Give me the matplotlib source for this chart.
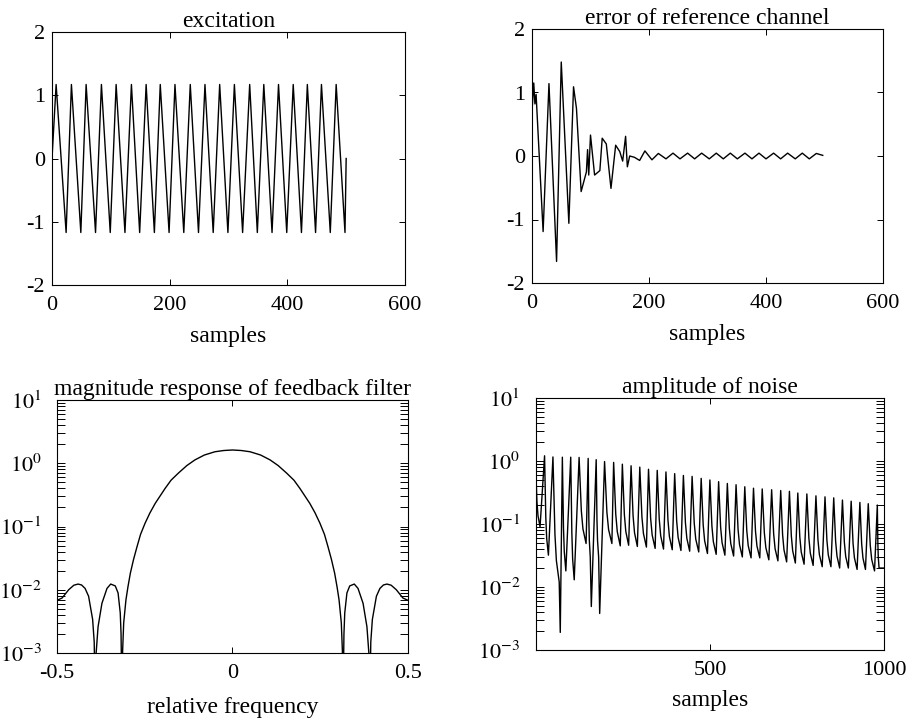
import matplotlib
matplotlib.use('Agg')
import matplotlib.pyplot as plt
import numpy as np

plt.rcParams['font.family'] = ['Liberation Serif', 'DejaVu Serif']
plt.rcParams['mathtext.fontset'] = 'stix'
plt.rcParams['axes.unicode_minus'] = False

# ---------------- data ----------------
# excitation: turning points
exc_start = (0, 0.0)
exc_peak_x = [7, 33, 58, 84, 109, 135, 160, 184, 209, 235, 260, 285, 310, 336, 360, 385, 410, 434, 458, 483]
exc_peak_y = [1.17] * 20
exc_trough_x = [24, 49, 74, 99, 124, 149, 174, 199, 224, 249, 274, 299, 324, 349, 374, 399, 424, 448, 473, 498]
exc_trough_y = [-1.17] * 20
exc_end = (500, 0.0)

# error of reference channel: vertices
err_x = [0, 3, 5, 7, 19, 29, 42, 50, 63, 71, 76, 84, 93, 95, 97, 100, 107, 116, 120, 127,
         135, 143, 150, 155, 160, 163, 167, 175, 184, 193, 205, 216, 229, 241, 253, 266,
         278, 290, 303, 315, 327, 339, 351, 364, 376, 388, 400, 413, 425, 437, 450, 462,
         474, 486, 497]
err_y = [0.7, 1.15, 0.82, 0.97, -1.19, 1.14, -1.66, 1.48, -1.06, 1.09, 0.75, -0.56, -0.25, 0.10,
         -0.30, 0.33, -0.30, -0.23, 0.28, 0.19, -0.51, 0.17, 0.07, -0.08, 0.31, -0.17, 0.0,
         -0.02, -0.07, 0.08, -0.06, 0.04, -0.045, 0.045, -0.045, 0.045, -0.045, 0.045, -0.045,
         0.045, -0.045, 0.045, -0.045, 0.045, -0.045, 0.045, -0.045, 0.045, -0.045, 0.045,
         -0.045, 0.045, -0.045, 0.04, 0.01]

# magnitude response (positive-frequency half, curve is symmetric)
mag_f = [0.0, 0.025, 0.05, 0.08, 0.107, 0.13, 0.154, 0.175, 0.192, 0.22, 0.235, 0.249,
         0.262, 0.272, 0.282, 0.291, 0.298, 0.3036, 0.310, 0.313, 0.3145,
         0.3175, 0.3198, 0.326, 0.334, 0.347, 0.3576, 0.372, 0.383, 0.3885, 0.3908,
         0.394, 0.3985, 0.41, 0.42, 0.43, 0.44, 0.452, 0.4667, 0.4855, 0.5]
mag_v = [1.62, 1.59, 1.52, 1.35, 1.13, 0.92, 0.70, 0.54, 0.40, 0.233, 0.165, 0.113,
         0.075, 0.048, 0.030, 0.0183, 0.011, 0.0069, 0.0030, 0.0011, 1e-4,
         0.002, 0.0043, 0.0089, 0.0115, 0.0123, 0.0105, 0.0061, 0.0026, 0.001, 1e-4,
         0.0015, 0.0034, 0.0079, 0.0105, 0.0119, 0.0123, 0.0118, 0.0100, 0.0074, 0.0068]

# amplitude of noise: start, peaks, troughs (before each peak), deep dips
noise_start = (0, 1.0)
noise_peak_x = [26, 50, 77, 101, 125, 151, 174, 198, 224, 249, 274, 299, 324, 349, 374, 399,
                424, 449, 475, 500, 525, 550, 575, 600, 625, 650, 677, 703, 728, 752, 778,
                804, 830, 855, 880, 905, 930, 954, 980]
noise_peak_y = [1.21, 1.16, 1.15, 1.15, 1.14, 1.10, 1.05, 0.98, 0.95, 0.89, 0.84, 0.80, 0.74,
                0.71, 0.67, 0.63, 0.59, 0.57, 0.53, 0.50, 0.47, 0.44, 0.42, 0.39, 0.37, 0.36,
                0.35, 0.34, 0.33, 0.31, 0.30, 0.28, 0.27, 0.26, 0.24, 0.23, 0.22, 0.21, 0.20]
noise_trough_x = [13, 37, 68, 87, 111, 145, 157, 181, 219, 243, 267, 292, 318, 343, 367, 392,
                  417, 442, 468, 493, 518, 543, 568, 593, 618, 643, 669, 695, 720, 745, 770,
                  796, 822, 847, 872, 897, 922, 946, 972]
noise_trough_y = [0.09, 0.032, 0.012, 0.018, 0.013, 0.049, 0.03, 0.03, 0.049, 0.045, 0.046,
                  0.044, 0.043, 0.041, 0.040, 0.039, 0.038, 0.037, 0.036, 0.034, 0.033, 0.032,
                  0.031, 0.030, 0.029, 0.029, 0.027, 0.026, 0.025, 0.024, 0.023, 0.022, 0.021,
                  0.021, 0.020, 0.020, 0.019, 0.019, 0.018]
noise_dip_x = [71, 160, 184]
noise_dip_y = [0.0019, 0.0049, 0.0038]
noise_end_x = [985, 1000]
noise_end_y = [0.02, 0.02]
# shape of each decaying flank (fraction of duration, fraction of log drop)
fall_t = [0.15, 0.32, 0.55]
fall_g = [0.30, 0.62, 0.83]

# ---------------- build vertex lists ----------------
ex = [exc_start[0]]
ey = [exc_start[1]]
for px, py, tx, ty in zip(exc_peak_x, exc_peak_y, exc_trough_x, exc_trough_y):
    ex += [px, tx]
    ey += [py, ty]
ex.append(exc_end[0]); ey.append(exc_end[1])

mf = [-f for f in mag_f[::-1]] + mag_f[1:]
mv = mag_v[::-1] + mag_v[1:]


def fall(p0, p1, xs, ys):
    (x0, y0), (x1, y1) = p0, p1
    for t, g in zip(fall_t, fall_g):
        xs.append(x0 + t * (x1 - x0))
        ys.append(10 ** (np.log10(y0) + g * (np.log10(y1) - np.log10(y0))))
    xs.append(x1); ys.append(y1)


nx = [noise_start[0]]
ny = [noise_start[1]]
prev = noise_start
for k in range(len(noise_peak_x)):
    fall(prev, (noise_trough_x[k], noise_trough_y[k]), nx, ny)
    for dx, dy in zip(noise_dip_x, noise_dip_y):
        if noise_trough_x[k] < dx < noise_peak_x[k]:
            nx.append(dx); ny.append(dy)
    nx.append(noise_peak_x[k]); ny.append(noise_peak_y[k])
    prev = (noise_peak_x[k], noise_peak_y[k])
fall(prev, (noise_end_x[0], noise_end_y[0]), nx, ny)
nx.append(noise_end_x[1]); ny.append(noise_end_y[1])

# ---------------- figure ----------------
W, H = 912, 721
fig = plt.figure(figsize=(W / 100, H / 100), dpi=100)


def make_ax(l, r, t, b):
    return fig.add_axes([l / W, 1 - b / H, (r - l) / W, (b - t) / H])


TICK = 16
LAB = 17
LW = 1.0

ax1 = make_ax(52, 405, 32, 285)
ax2 = make_ax(532, 883, 29, 283)
ax3 = make_ax(57, 408, 400, 653)
ax4 = make_ax(535.5, 884.3, 398, 650)

for ax in (ax1, ax2):
    ax.set_xlim(0, 600)
    ax.set_ylim(-2, 2)
    ax.set_xticks([0, 200, 400, 600])
    ax.set_xticklabels(['0', '200', '400', '600'])
    ax.set_yticks([-2, -1, 0, 1, 2])
    ax.set_yticklabels(['-2', '-1', '0', '1', '2'])
    ax.set_xlabel('samples', fontsize=LAB, labelpad=8)

ax1.plot(ex, ey, color='black', lw=LW)
ax1.set_title('excitation', fontsize=LAB, pad=3)
ax2.plot(err_x, err_y, color='black', lw=LW)
ax2.set_title('error of reference channel', fontsize=LAB, pad=3)

for ax in (ax3, ax4):
    ax.set_yscale('log')
    ax.set_ylim(1e-3, 1e1)
    ax.set_yticks([1e-3, 1e-2, 1e-1, 1e0, 1e1])
    ax.set_yticklabels([r'$10^{-3}$', r'$10^{-2}$', r'$10^{-1}$', r'$10^{0}$', r'$10^{1}$'])
    ax.yaxis.set_minor_locator(matplotlib.ticker.LogLocator(base=10, subs=np.arange(2, 10), numticks=20))
    ax.yaxis.set_minor_formatter(matplotlib.ticker.NullFormatter())

ax3.plot(mf, mv, color='black', lw=LW)
ax3.set_xlim(-0.5, 0.5)
ax3.set_xticks([-0.5, 0, 0.5])
ax3.set_xticklabels(['-0.5', '0', '0.5'])
ax3.set_title('magnitude response of feedback filter', fontsize=LAB, pad=1)
ax3.set_xlabel('relative frequency', fontsize=LAB, labelpad=10)

ax4.plot(nx, ny, color='black', lw=LW)
ax4.set_xlim(0, 1000)
ax4.set_xticks([500, 1000])
ax4.set_xticklabels(['500', '1000'])
ax4.set_title('amplitude of noise', fontsize=LAB, pad=3)
ax4.set_xlabel('samples', fontsize=LAB, labelpad=7)

for ax in (ax1, ax2, ax3, ax4):
    ax.tick_params(which='both', direction='in', top=True, right=True, width=0.7,
                   labelsize=TICK, color='black')
    ax.tick_params(axis='x', which='major', length=4, pad=8)
    ax.tick_params(axis='y', which='major', pad=5)
    for s in ax.spines.values():
        s.set_linewidth(0.8)
for ax in (ax1, ax2):
    ax.tick_params(axis='y', length=4)
for ax in (ax3, ax4):
    ax.tick_params(axis='y', which='both', length=6)
    ax.tick_params(axis='y', which='major', pad=11)

fig.savefig('out.png', dpi=100)
